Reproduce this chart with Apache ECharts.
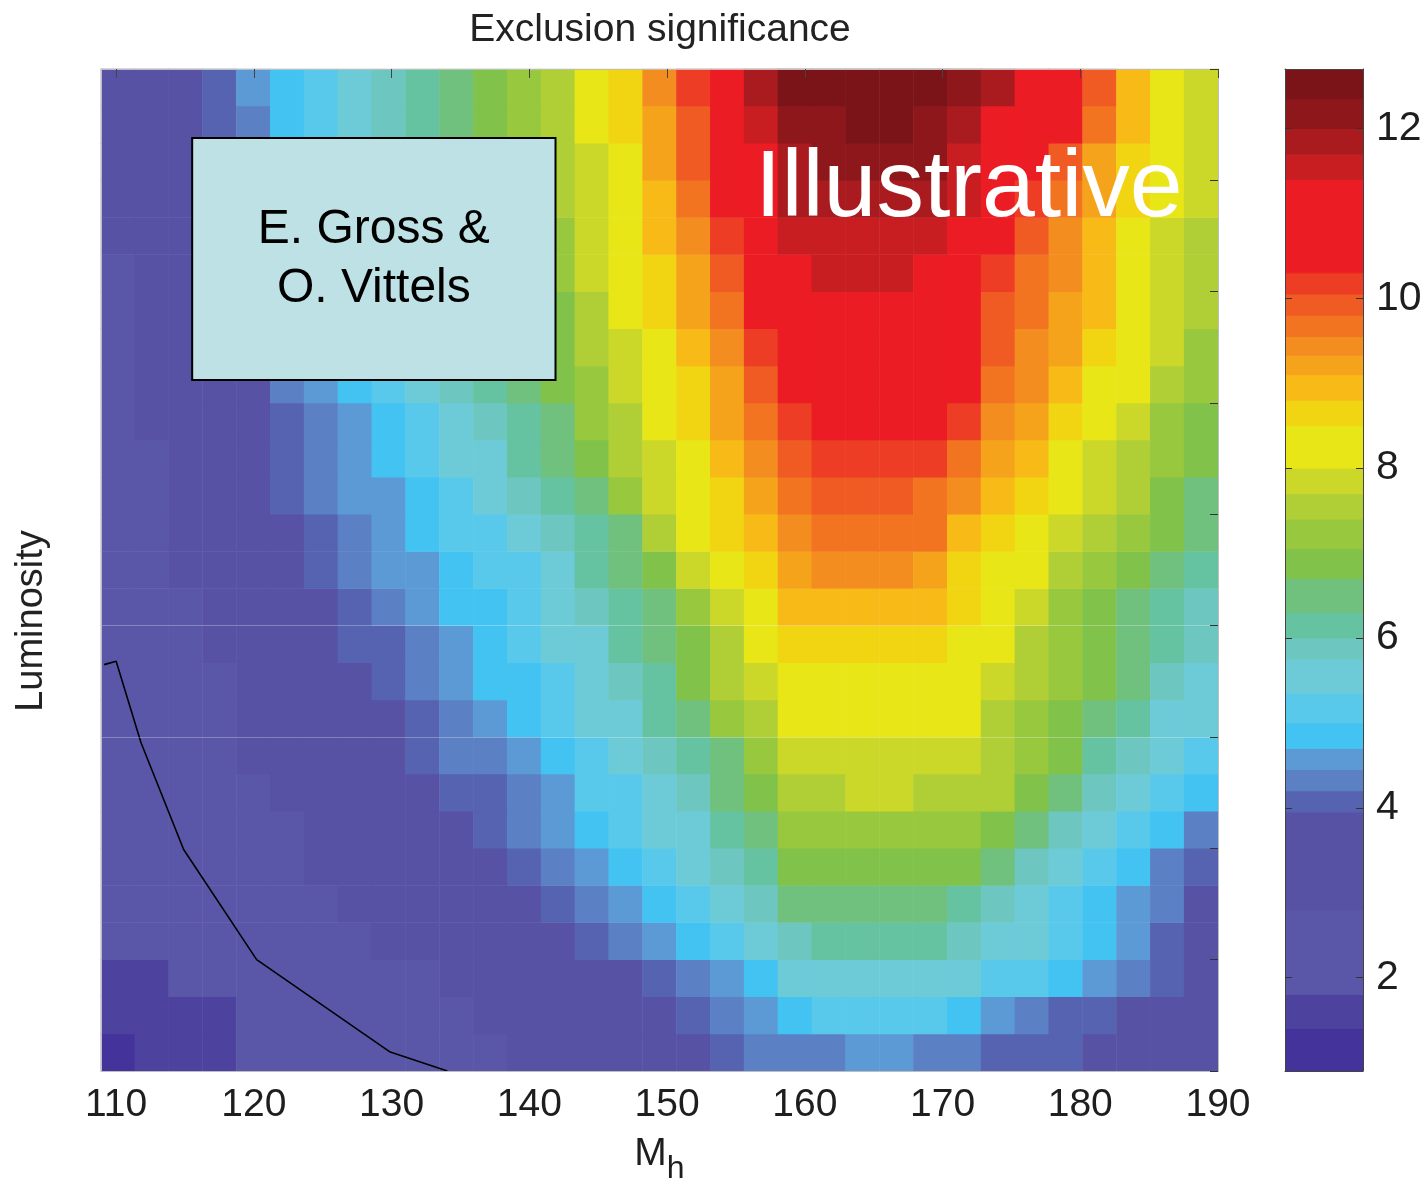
<!DOCTYPE html>
<html><head><meta charset="utf-8">
<script src="https://cdn.jsdelivr.net/npm/echarts@6/dist/echarts.min.js"></script>
<style>html,body{margin:0;padding:0;background:#fff}#c{width:1424px;height:1184px}</style>
</head><body><div id="c"></div>
<script>
// Mh cell centres (GeV) and luminosity row centres (arbitrary units, axis 0..9)
const mhCells = ['110.13','112.59','115.04','117.50','119.96','122.42','124.87','127.33','129.79','132.25','134.70','137.16','139.62','142.08','144.54','146.99','149.45','151.91','154.37','156.82','159.28','161.74','164.20','166.65','169.11','171.57','174.03','176.49','178.94','181.40','183.86','186.32','188.77'];
const lumiRows = ['0.17','0.50','0.83','1.17','1.50','1.83','2.17','2.50','2.83','3.17','3.50','3.83','4.17','4.50','4.83','5.17','5.50','5.83','6.17','6.50','6.83','7.17','7.50','7.83','8.17','8.50','8.83'];

// exclusion significance, one row per luminosity (bottom to top)
const z00 = [1.38,1.53,1.62,1.72,1.8,1.85,1.9,1.95,1.99,2.19,2.41,2.62,2.83,3.05,3.27,3.48,3.7,3.91,4.08,4.22,4.41,4.44,4.45,4.45,4.44,4.32,4.18,4.11,4.04,3.94,3.79,3.63,3.48];
const z01 = [1.55,1.62,1.69,1.76,1.83,1.9,1.97,2.12,2.32,2.53,2.73,2.93,3.13,3.33,3.53,3.74,3.94,4.11,4.3,4.53,4.88,5.03,5.05,5.05,5.03,4.81,4.52,4.29,4.14,4.03,3.89,3.74,3.58];
const z02 = [1.7,1.76,1.83,1.89,1.95,2.04,2.23,2.41,2.6,2.79,2.98,3.16,3.35,3.54,3.72,3.91,4.12,4.38,4.64,4.99,5.5,5.63,5.65,5.65,5.63,5.49,5.29,5.08,4.78,4.49,4.22,3.99,3.76];
const z03 = [1.82,1.87,1.92,1.97,2.06,2.25,2.44,2.64,2.83,3.02,3.22,3.4,3.6,3.79,3.98,4.22,4.57,4.88,5.19,5.45,5.91,6.08,6.1,6.1,6.08,5.83,5.55,5.35,5.14,4.82,4.5,4.19,3.93];
const z04 = [1.87,1.91,1.95,2.01,2.21,2.42,2.63,2.84,3.05,3.25,3.46,3.66,3.87,4.08,4.33,4.6,4.9,5.2,5.47,5.82,6.34,6.48,6.5,6.5,6.48,6.23,5.79,5.45,5.23,4.93,4.54,4.22,3.9];
const z05 = [1.9,1.95,1.99,2.18,2.39,2.61,2.83,3.06,3.28,3.5,3.72,3.93,4.16,4.43,4.64,4.93,5.24,5.52,5.87,6.29,6.83,6.98,7.0,7.0,6.98,6.71,6.36,5.98,5.64,5.21,4.77,4.33,4.02];
const z06 = [1.92,1.97,2.09,2.32,2.54,2.77,3.0,3.23,3.46,3.69,3.93,4.09,4.25,4.54,4.81,5.15,5.41,5.69,6.07,6.56,7.13,7.33,7.35,7.35,7.32,7.15,6.84,6.41,5.96,5.55,5.18,4.77,4.34];
const z07 = [1.94,1.99,2.2,2.44,2.67,2.91,3.16,3.4,3.64,3.88,4.05,4.14,4.34,4.68,5.05,5.3,5.54,5.88,6.33,6.93,7.5,7.68,7.7,7.7,7.67,7.6,7.5,6.92,6.43,5.95,5.54,5.18,4.81];
const z08 = [1.96,2.07,2.32,2.56,2.8,3.05,3.29,3.54,3.78,4.02,4.23,4.44,4.67,4.92,5.19,5.52,5.89,6.27,6.68,7.15,7.72,7.93,7.95,7.95,7.92,7.77,7.55,7.18,6.71,6.21,5.82,5.48,5.04];
const z09 = [1.97,2.18,2.43,2.68,2.92,3.17,3.42,3.67,3.92,4.15,4.37,4.59,4.82,5.07,5.37,5.69,6.04,6.62,7.12,7.56,8.07,8.18,8.2,8.2,8.17,8.06,7.69,7.32,6.92,6.5,6.09,5.73,5.43];
const z10 = [1.99,2.25,2.51,2.77,3.02,3.28,3.54,3.8,4.05,4.27,4.49,4.71,4.95,5.21,5.51,5.82,6.28,6.92,7.45,7.94,8.3,8.43,8.45,8.45,8.42,8.22,7.85,7.45,7.09,6.71,6.34,5.97,5.66];
const z11 = [2.05,2.32,2.6,2.87,3.14,3.41,3.69,3.96,4.19,4.4,4.62,4.84,5.08,5.36,5.66,6.05,6.44,6.91,7.47,8.02,8.59,8.73,8.75,8.75,8.7,8.48,8.04,7.6,7.21,6.84,6.48,6.13,5.81];
const z12 = [2.13,2.42,2.71,3.0,3.28,3.57,3.86,4.11,4.33,4.54,4.76,4.98,5.22,5.48,5.8,6.19,6.62,7.28,7.91,8.45,8.93,9.03,9.05,9.05,9.0,8.62,8.23,7.79,7.35,6.96,6.61,6.28,5.96];
const z13 = [2.2,2.51,2.83,3.14,3.45,3.76,4.05,4.26,4.47,4.68,4.89,5.09,5.34,5.58,6.01,6.38,6.95,7.77,8.35,8.7,9.19,9.33,9.35,9.35,9.3,8.79,8.42,8.0,7.5,7.09,6.72,6.38,6.1];
const z14 = [2.26,2.59,2.91,3.24,3.56,3.88,4.14,4.36,4.57,4.79,5.02,5.25,5.5,5.82,6.18,6.58,7.5,8.09,8.56,8.96,9.45,9.58,9.6,9.6,9.55,9.08,8.69,8.3,7.93,7.6,7.17,6.76,6.44];
const z15 = [2.33,2.66,3.0,3.33,3.66,4.0,4.22,4.45,4.68,4.93,5.19,5.45,5.75,6.08,6.42,7.07,7.75,8.3,8.73,9.15,9.61,9.82,9.85,9.84,9.78,9.46,8.93,8.53,8.11,7.75,7.4,7.01,6.6];
const z16 = [2.4,2.74,3.08,3.42,3.75,4.06,4.3,4.54,4.8,5.1,5.38,5.67,6.0,6.33,6.78,7.44,7.98,8.46,8.91,9.41,9.92,10.12,10.15,10.14,10.08,9.74,9.27,8.83,8.39,7.97,7.59,7.2,6.83];
const z17 = [2.48,2.82,3.17,3.51,3.85,4.14,4.39,4.65,4.97,5.29,5.59,5.91,6.25,6.61,7.08,7.69,8.17,8.62,9.1,9.68,10.25,10.47,10.5,10.48,10.42,10.1,9.53,9.15,8.69,8.24,7.81,7.39,7.02];
const z18 = [2.55,2.9,3.25,3.6,3.94,4.22,4.49,4.78,5.15,5.48,5.81,6.13,6.46,6.83,7.38,7.87,8.33,8.79,9.3,9.83,10.42,10.72,10.75,10.73,10.65,10.37,9.76,9.34,8.96,8.49,8.03,7.54,7.18];
const z19 = [2.62,2.97,3.32,3.67,4.01,4.28,4.56,4.89,5.25,5.58,5.9,6.21,6.53,6.92,7.53,7.98,8.45,8.93,9.5,10.09,10.76,10.97,11.0,10.98,10.9,10.48,9.87,9.44,9.14,8.65,8.18,7.7,7.31];
const z20 = [2.7,3.05,3.4,3.74,4.07,4.35,4.64,5.01,5.36,5.69,5.99,6.29,6.62,7.04,7.63,8.09,8.57,9.1,9.76,10.42,11.08,11.22,11.25,11.23,11.15,10.62,10.01,9.58,9.26,8.81,8.31,7.87,7.47];
const z21 = [2.75,3.1,3.46,3.81,4.13,4.43,4.73,5.12,5.46,5.78,6.08,6.37,6.72,7.17,7.71,8.17,8.69,9.28,9.98,10.64,11.28,11.42,11.45,11.43,11.35,10.88,10.21,9.68,9.35,8.93,8.39,7.94,7.55];
const z22 = [2.8,3.16,3.52,3.88,4.19,4.5,4.84,5.21,5.55,5.86,6.16,6.46,6.82,7.3,7.79,8.25,8.83,9.47,10.16,10.82,11.48,11.62,11.65,11.63,11.55,11.14,10.53,10.01,9.54,9.06,8.46,7.99,7.6];
const z23 = [2.85,3.22,3.58,3.95,4.26,4.58,4.94,5.3,5.64,5.94,6.25,6.56,6.99,7.41,7.86,8.32,8.96,9.64,10.34,11.03,11.72,11.88,11.9,11.88,11.8,11.41,10.84,10.27,9.68,9.1,8.57,8.06,7.79];
const z24 = [2.9,3.27,3.65,4.02,4.35,4.68,5.08,5.42,5.74,6.04,6.34,6.68,7.09,7.5,7.95,8.44,9.11,9.81,10.52,11.21,11.9,12.1,12.15,12.12,12.02,11.57,11.06,10.55,9.97,9.31,8.69,8.2,7.88];
const z25 = [2.95,3.33,3.72,4.09,4.43,4.8,5.19,5.53,5.83,6.13,6.42,6.78,7.17,7.58,8.02,8.57,9.28,9.98,10.69,11.4,12.1,12.3,12.4,12.38,12.22,11.86,11.35,10.83,10.3,9.57,8.83,8.25,7.92];
const z26 = [3.0,3.4,3.79,4.18,4.54,4.94,5.31,5.64,5.93,6.21,6.5,6.88,7.26,7.67,8.11,8.7,9.43,10.15,10.98,11.82,12.37,12.55,12.65,12.6,12.45,12.19,11.76,11.19,10.62,10.0,8.94,8.28,7.95];
const sigRows = [z00,z01,z02,z03,z04,z05,z06,z07,z08,z09,z10,z11,z12,z13,z14,z15,z16,z17,z18,z19,z20,z21,z22,z23,z24,z25,z26];

// black contour line (Mh, luminosity)
const exclMh   = [109.13, 110.0, 111.8, 114.9, 120.2, 129.9, 134.05];
const exclLumi = [3.65, 3.68, 2.95, 1.99, 1.0, 0.17, 0.0];

// tick labels
const xTicks  = [110,120,130,140,150,160,170,180,190];
const cbTicks = [2,4,6,8,10,12];

// colour levels
const levelLo = [0.9,1.4,1.8,2.8,3.95,4.2,4.45,4.7,5.0,5.35,5.75,6.0,6.3,6.7,7.05,7.4,7.7,8.0,8.5,8.8,9.1,9.33,9.55,9.8,10.05,10.3,11.4,11.7,12.0,12.35];
const levelHi = [1.4,1.8,2.8,3.95,4.2,4.45,4.7,5.0,5.35,5.75,6.0,6.3,6.7,7.05,7.4,7.7,8.0,8.5,8.8,9.1,9.33,9.55,9.8,10.05,10.3,11.4,11.7,12.0,12.35,12.7];
const levelColors = ['#43339a','#4d429e','#5b57a8','#5752a3','#5563b1','#5b80c4','#5c9ad6','#43c3f1','#58c9ea','#6dcbd8','#6dc7c0','#66c3a2','#70c07e','#80c24a','#98c83e','#b0cf36','#cbd829','#e8e617','#f1d512','#f7ba17','#f6a31c','#f48d1f','#f27421','#ef5b22','#ed3d24','#ec1c24','#c81e22','#aa1b1f','#8e171b','#7a1418'];

const FONT = '"Liberation Sans", Arial, Helvetica, sans-serif';
const TXT = '#1e1e1e';

const heatData = [];
sigRows.forEach((row, j) => row.forEach((v, k) => heatData.push([k, j, v])));
const pieces = levelLo.map((lo, i) => (i === levelLo.length - 1)
  ? { gte: lo, lte: 13, color: levelColors[i] }
  : { gte: lo, lt: levelHi[i], color: levelColors[i] });
const lineData = exclMh.map((m, i) => [m, exclLumi[i]]);
const cbData = levelLo.map((lo, i) => [lo, levelHi[i], i]);

const chart = echarts.init(document.getElementById('c'), null, { renderer: 'canvas', width: 1424, height: 1184 });

const option = {
  animation: false,
  backgroundColor: '#fff',
  title: {
    text: 'Exclusion significance', left: 660, top: 11, textAlign: 'center', padding: 0,
    textStyle: { fontFamily: FONT, fontSize: 39, fontWeight: 'normal', color: '#222' }
  },
  grid: [
    { left: 101, top: 69, width: 1117, height: 1002, outerBoundsMode: 'none', containLabel: false },
    { left: 1285, top: 69, width: 78, height: 1002, outerBoundsMode: 'none', containLabel: false }
  ],
  xAxis: [
    { type: 'category', gridIndex: 0, data: mhCells, show: false },
    { type: 'value', gridIndex: 0, min: 108.9, max: 190, position: 'bottom', z: 10,
      axisLine: { show: true, onZero: false, lineStyle: { color: '#bdbdbd' } },
      axisTick: { show: false }, splitLine: { show: false },
      axisLabel: { customValues: xTicks, fontSize: 39, fontFamily: FONT, color: TXT, margin: 15 },
      name: '{m|M}{s|h}', nameLocation: 'middle', nameGap: 52,
      nameTextStyle: { rich: {
        m: { fontSize: 39, fontFamily: FONT, color: TXT },
        s: { fontSize: 32, fontFamily: FONT, color: TXT, padding: [30, 0, 0, 0] } } } },
    { type: 'value', gridIndex: 0, min: 108.9, max: 190, position: 'top', z: 10,
      axisLine: { show: true, onZero: false, lineStyle: { color: '#bdbdbd' } },
      axisTick: { show: true, inside: true, length: 9, customValues: xTicks, lineStyle: { color: '#444' } },
      axisLabel: { show: false }, splitLine: { show: false } },
    { type: 'value', gridIndex: 1, min: 0, max: 1, position: 'bottom', z: 10,
      axisLine: { show: true, onZero: false, lineStyle: { color: '#444' } },
      axisTick: { show: false }, axisLabel: { show: false }, splitLine: { show: false } },
    { type: 'value', gridIndex: 1, min: 0, max: 1, position: 'top', z: 10,
      axisLine: { show: true, onZero: false, lineStyle: { color: '#444' } },
      axisTick: { show: false }, axisLabel: { show: false }, splitLine: { show: false } }
  ],
  yAxis: [
    { type: 'category', gridIndex: 0, data: lumiRows, show: false },
    { type: 'value', gridIndex: 0, min: 0, max: 9, position: 'left', z: 10,
      axisLine: { show: true, onZero: false, lineStyle: { color: '#bdbdbd' } },
      axisTick: { show: false }, axisLabel: { show: false }, splitLine: { show: false },
      name: 'Luminosity', nameLocation: 'middle', nameRotate: 90, nameGap: 50,
      nameTextStyle: { fontFamily: FONT, fontSize: 38, color: '#222', padding: [0, 102, 0, 0] } },
    { type: 'value', gridIndex: 0, min: 0, max: 9, interval: 1, position: 'right', z: 10,
      axisLine: { show: true, onZero: false, lineStyle: { color: '#bdbdbd' } },
      axisTick: { show: true, inside: true, length: 8, lineStyle: { color: '#333' } },
      axisLabel: { show: false }, splitLine: { show: false } },
    { type: 'value', gridIndex: 1, min: 0.9, max: 12.7, position: 'right', z: 10,
      axisLine: { show: true, onZero: false, lineStyle: { color: '#444' } },
      axisTick: { show: true, inside: true, length: 7, customValues: cbTicks, lineStyle: { color: '#333' } },
      axisLabel: { customValues: cbTicks, fontSize: 41, fontFamily: FONT, color: TXT, margin: 13 },
      splitLine: { show: false } },
    { type: 'value', gridIndex: 1, min: 0.9, max: 12.7, position: 'left', z: 10,
      axisLine: { show: true, onZero: false, lineStyle: { color: '#444' } },
      axisTick: { show: true, inside: true, length: 7, customValues: cbTicks, lineStyle: { color: '#333' } },
      axisLabel: { show: false }, splitLine: { show: false } }
  ],
  visualMap: { type: 'piecewise', show: false, seriesIndex: 0, dimension: 2, pieces: pieces },
  series: [
    { type: 'heatmap', xAxisIndex: 0, yAxisIndex: 0, data: heatData, progressive: 0,
      emphasis: { disabled: true }, silent: true, z: 1 },
    { type: 'line', xAxisIndex: 1, yAxisIndex: 1, data: lineData, symbol: 'none', silent: true, z: 3,
      lineStyle: { color: '#000', width: 1.6 },
      markLine: { silent: true, symbol: 'none', label: { show: false }, z: 4,
        lineStyle: { color: 'rgba(255,255,255,0.28)', width: 1, type: 'solid' },
        data: [{ yAxis: 3 }, { yAxis: 4 }] },
      markArea: { silent: true, z: 6,
        itemStyle: { color: '#bde1e4', borderColor: '#000', borderWidth: 2, opacity: 1 },
        label: { show: true, position: 'inside', formatter: 'E. Gross &\nO. Vittels',
          fontFamily: FONT, fontSize: 48, lineHeight: 59, color: '#000' },
        data: [[{ xAxis: 115.52, yAxis: 8.38 }, { xAxis: 141.9, yAxis: 6.207 }]] } },
    { type: 'custom', xAxisIndex: 3, yAxisIndex: 3, data: cbData, silent: true, clip: true, z: 1,
      renderItem: function (params, api) {
        const lo = api.value(0), hi = api.value(1), i = api.value(2);
        const p0 = api.coord([0, lo]), p1 = api.coord([1, hi]);
        return { type: 'rect',
          shape: { x: p0[0], y: p1[1], width: p1[0] - p0[0], height: p0[1] - p1[1] },
          style: { fill: levelColors[i], stroke: levelColors[i], lineWidth: 1 } };
      } }
  ],
  graphic: [
    { type: 'text', x: 755, y: 190, z: 100, silent: true,
      style: { text: 'Illustrative', fontSize: 95, fontFamily: FONT, fill: '#fff', verticalAlign: 'middle', align: 'left' } }
  ]
};
chart.setOption(option);
</script>
</body></html>
